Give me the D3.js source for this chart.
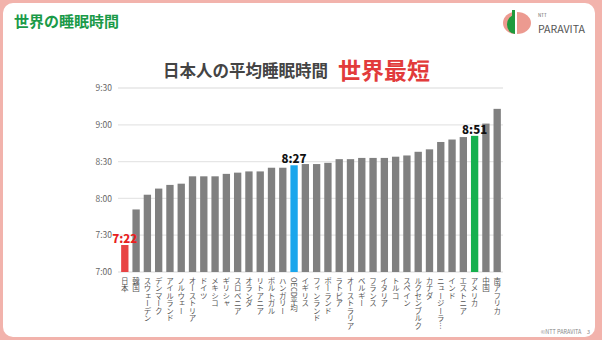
<!DOCTYPE html>
<html><head><meta charset="utf-8">
<script src="https://cdn.jsdelivr.net/npm/d3@7/dist/d3.min.js"></script>
<style>
html,body{margin:0;padding:0;background:#f2b3ac;}
svg{display:block;}
text{font-family:"Noto Sans CJK JP","Noto Sans",sans-serif;}
</style></head>
<body><svg id="c" width="602" height="340"></svg>
<script>
const categories = ["日本","韓国","スウェーデン","デンマーク","アイルランド","ノルウェー","オーストリア","ドイツ","メキシコ","ギリシャ","スロベニア","オランダ","リトアニア","ポルトガル","ハンガリー","OECD平均","イギリス","フィンランド","ポーランド","ラトビア","オーストラリア","ベルギー","フランス","イタリア","トルコ","スペイン","ルクセンブルク","カナダ","ニュージーラ…","インド","エストニア","アメリカ","中国","南アフリカ"];
// sleep time in minutes
const sleepMinutes = [442,471,483,488,491,492,498,498,498,500,501,502,502,505,505,507,508,508,509,512,512,513,513,513,514,515,518,520,526,528,530,531,541,553];
const yTicks = [420,450,480,510,540,570];
const highlight = {"日本":"#e84343","OECD平均":"#1aa6ec","アメリカ":"#16b04e"};
const valueLabels = [{cat:"日本",color:"#e82020"},{cat:"OECD平均",color:"#111"},{cat:"アメリカ",color:"#111"}];

const fmt = m => Math.floor(m/60) + ":" + String(m%60).padStart(2,"0");

const svg = d3.select("#c");
// slide frame
svg.append("rect").attr("x",0).attr("y",0).attr("width",602).attr("height",340).attr("fill","#f2b3ac");
svg.append("rect").attr("x",3).attr("y",3).attr("width",592).attr("height",334).attr("rx",10).attr("fill","#fff");

// header
svg.append("text").attr("x",14).attr("y",27).attr("font-size",15).attr("font-weight",700)
  .attr("fill","#1a9a48").text("世界の睡眠時間");

// logo
const lg = svg.append("g");
lg.append("path").attr("d","M517,12 A14,11 0 0 1 517,34 Z").attr("fill","#ec9a90");
lg.append("path").attr("d","M515,12 A12,11 0 0 0 515,34 Z").attr("fill","#ec9a90");
lg.append("path").attr("d","M515,15 A8,9.5 0 0 0 515,34 Z").attr("fill","#1e9a3c");
lg.append("rect").attr("x",512).attr("y",10).attr("width",3).attr("height",12).attr("fill","#1e9a3c");
svg.append("text").attr("x",538).attr("y",17).attr("font-size",4.5).attr("fill","#666").attr("font-family","DejaVu Sans Condensed").text("NTT");
svg.append("text").attr("x",538).attr("y",33).attr("font-size",11).attr("fill","#555")
  .attr("font-family","DejaVu Sans Condensed").attr("textLength",47).attr("lengthAdjust","spacingAndGlyphs").text("PARAVITA");

// chart title
svg.append("text").attr("x",163).attr("y",77).attr("font-size",16.5).attr("font-weight",700)
  .attr("fill","#444").text("日本人の平均睡眠時間");
svg.append("text").attr("x",338).attr("y",79).attr("font-size",23).attr("font-weight",700)
  .attr("fill","#e23b3b").text("世界最短");

const x = d3.scaleBand().domain(categories).range([119,503]).paddingInner(0.35).paddingOuter(0.19);
const y = d3.scaleLinear().domain([420,570]).range([272,88]);

// grid
svg.append("g").selectAll("line").data(yTicks).join("line")
  .attr("x1",118).attr("x2",503).attr("y1",d=>y(d)).attr("y2",d=>y(d))
  .attr("stroke","#e6e6e6").attr("stroke-width",1.3);

// y axis
const yAxis = d3.axisLeft(y).tickValues(yTicks).tickFormat(fmt).tickSize(0).tickPadding(6);
const ya = svg.append("g").attr("transform","translate(118,0)").call(yAxis);
ya.select(".domain").remove();
ya.selectAll("text").attr("font-size",8.5).attr("fill","#666").attr("font-family","Noto Sans, sans-serif");

// bars
const data = categories.map((c,i)=>({c,v:sleepMinutes[i]}));
svg.append("g").selectAll("rect").data(data).join("rect")
  .attr("x",d=>x(d.c)).attr("width",x.bandwidth())
  .attr("y",d=>y(d.v)).attr("height",d=>y(420)-y(d.v))
  .attr("fill",d=>highlight[d.c]||"#808080");

// x axis labels (vertical)
const xAxis = d3.axisBottom(x).tickSize(0).tickPadding(0);
const xa = svg.append("g").attr("transform","translate(0,272)").call(xAxis);
xa.select(".domain").remove();
xa.selectAll("text").attr("y",5).attr("dy",0).attr("font-size",7.5).attr("fill","#555")
  .attr("font-family","Noto Sans CJK JP")
  .style("writing-mode","vertical-rl").attr("text-anchor","start");

// value labels
svg.append("g").selectAll("text").data(valueLabels).join("text")
  .attr("x",d=>x(d.cat)+x.bandwidth()/2)
  .attr("y",d=>y(sleepMinutes[categories.indexOf(d.cat)])-2)
  .attr("text-anchor","middle").attr("font-size",11.5).attr("font-weight",900)
  .attr("font-family","Noto Sans, sans-serif")
  .attr("fill",d=>d.color).text(d=>fmt(sleepMinutes[categories.indexOf(d.cat)]));

// footer
svg.append("text").attr("x",590).attr("y",334).attr("text-anchor","end").attr("font-size",5.5)
  .attr("fill","#888").attr("font-family","Noto Sans, sans-serif").text("©NTT PARAVITA　3");
</script></body></html>
